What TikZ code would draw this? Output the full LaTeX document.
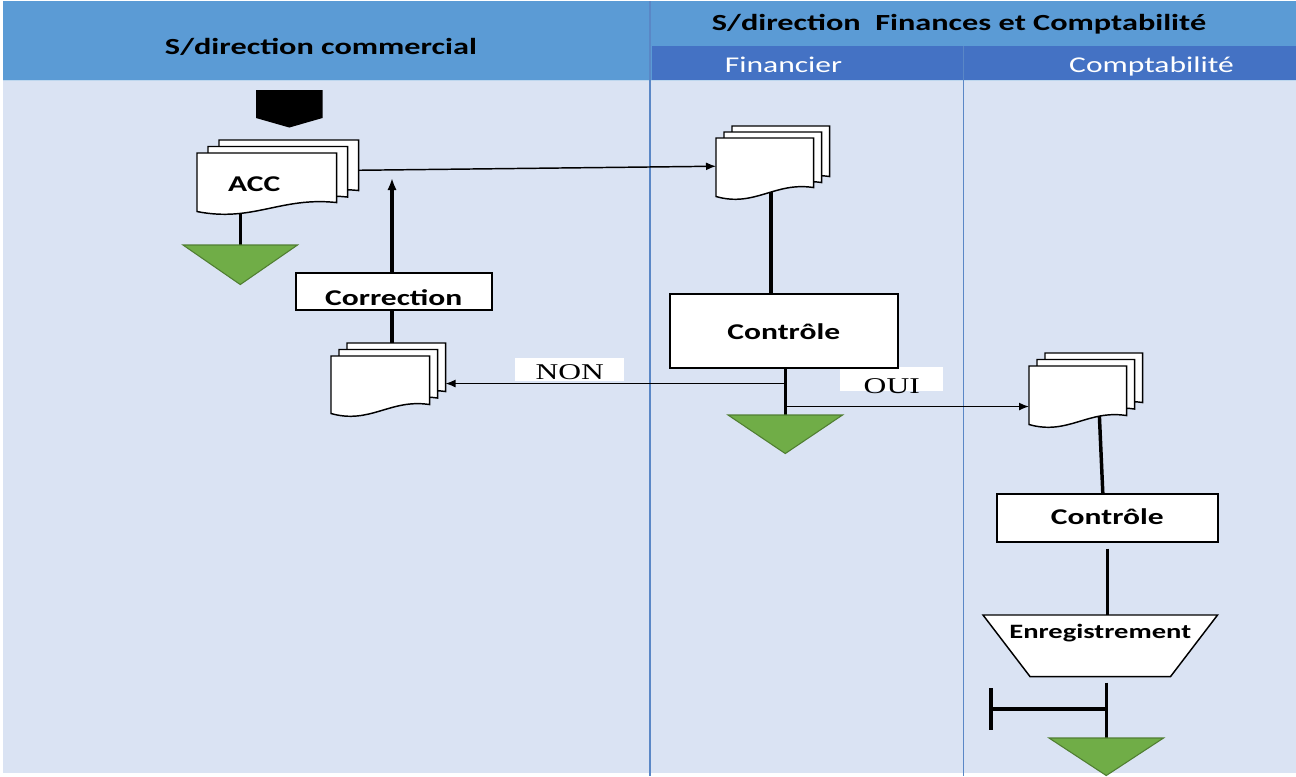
\documentclass[tikz,border=0pt]{standalone}
\usepackage{fontspec}
\setmainfont{Carlito}[FakeStretch=1.4]
\newfontfamily\serifwide{Liberation Serif}[FakeStretch=1.4]
\usetikzlibrary{calc,arrows.meta}
\pgfdeclarelayer{under}
\pgfsetlayers{under,main}
\definecolor{headblue}{HTML}{5B9BD5}
\definecolor{subblue}{HTML}{4472C4}
\definecolor{laneblue}{HTML}{DAE3F3}
\definecolor{laneline}{HTML}{5A87C6}
\definecolor{stopgreen}{HTML}{70AD47}
\definecolor{stopgreenline}{HTML}{507E32}

% one sheet of a document symbol, wavy lower edge
\newcommand\wavepage[1]{%
  \filldraw[pageline] (#1.north west) -- (#1.north east) -- (#1.south east)
    .. controls ($(#1.south west)!0.6!(#1.south east)+(0,-6)$)
       and ($(#1.south west)!0.4!(#1.south east)+(0,20)$)
    .. ($(#1.south west)+(0,9)$) -- cycle;}
% downward triangle (end of flow)
\newcommand\stoptri[1]{%
  \filldraw[stopmark] (#1.north west) -- (#1.north east) -- (#1.south) -- cycle;}

\begin{document}
\begin{tikzpicture}[x=0.75pt,y=-0.75pt,
  % node spanning the pixel box (x1,y1)-(x2,y2)
  spot/.style n args={4}{at={(#1,#2)}, anchor=north west,
      minimum width={(#3-#1)*0.75pt}, minimum height={(#4-#2)*0.75pt}},
  lab/.style={font=\fontsize{16.9pt}{20pt}\selectfont\bfseries},
  headtext/.style={font=\fontsize{17.3pt}{20pt}\selectfont\bfseries, anchor=base, inner sep=0pt},
  subtext/.style={font=\fontsize{16.9pt}{20pt}\selectfont, text=white, anchor=base, inner sep=0pt},
  answertext/.style={font=\serifwide\fontsize{16.9pt}{20pt}\selectfont, inner sep=0pt},
  answertag/.style={fill=white, inner sep=0pt},
  slot/.style={inner sep=0pt, draw=none},
  procbox/.style={slot, draw=black, fill=white, line width=1.2pt, lab},
  pageline/.style={fill=white, draw=black, line width=1.1pt},
  stopmark/.style={fill=stopgreen, draw=stopgreenline, line width=0.8pt},
  stemline/.style={line width=2.6pt, black},
  flowarrow/.style={line width=1.1pt, black, -{Latex[length=7.5pt,width=6pt]}},
]
\useasboundingbox (0,0) rectangle (1296,776);

% lanes and headers
\begin{pgfonlayer}{under}
  \fill[white] (0,0) rectangle (1296,776);
  \fill[laneblue] (3,1) rectangle (1296,773);
  \fill[headblue] (3,1) rectangle (1296,80);
  \fill[subblue] (652,46) rectangle (1296,80);
  \draw[white!60!headblue, line width=0.8pt] (3,80.5) -- (1296,80.5);
  \draw[laneline, line width=1.5pt] (650,1) -- (650,776);
  \draw[laneline, line width=1.2pt] (963.5,46) -- (963.5,776);
\end{pgfonlayer}

\node[headtext] (hcom) at (321,54) {S/direction commercial};
\node[headtext] (hfc) at (959,30) {S/direction\ \ Finances et Comptabilité};
\node[subtext] (hfin) at (783.5,72) {Financier};
\node[subtext] (hcpt) at (1151.5,72) {Comptabilité};

% S/direction commercial
\node[slot, spot={256}{90}{322}{127}] (offpage) {};
\node[slot, spot={219}{140}{358}{190}] (acc3) {};
\node[slot, spot={208}{146.5}{347}{196.5}] (acc2) {};
\node[slot, spot={197}{153}{336}{202},
      label={[lab, inner sep=0pt, anchor=base, xshift=-9.4pt, yshift=8.25pt]south:ACC}] (acc1) {};
\node[slot, spot={183}{245}{297}{284}] (tri1) {};
\node[procbox, spot={295}{272}{491}{309}, text height=21.75pt, text depth=0pt] (corr) {Correction};
\node[slot, spot={347}{343}{445}{391}] (cd3) {};
\node[slot, spot={339}{349.5}{437}{397.5}] (cd2) {};
\node[slot, spot={331}{356}{429}{404}] (cd1) {};
\coordinate (corrtip) at (392,178);

% Financier (answer tags first so the box outline stays on top)
\node[answertag, spot={515}{358}{624}{381},
      label={[answertext, anchor=base, yshift=1.5pt]south:NON}] (non) {};
\node[answertag, spot={840}{367}{943}{391},
      label={[answertext, anchor=base, yshift=-1.5pt]south:OUI}] (oui) {};
\node[slot, spot={732}{126}{829}{176}] (fin3) {};
\node[slot, spot={724}{132}{821}{182}] (fin2) {};
\node[slot, spot={716}{138}{813}{187}] (fin1) {};
\node[procbox, spot={669}{293}{897}{367}, text height=13.5pt, text depth=0pt] (ctl1) {Contrôle};
\node[slot, spot={728}{415}{842}{453}] (tri2) {};

% Comptabilité
\node[slot, spot={1045}{353}{1142}{402}] (cp3) {};
\node[slot, spot={1037}{359.5}{1134}{408.5}] (cp2) {};
\node[slot, spot={1029}{366}{1126}{415}] (cp1) {};
\node[procbox, spot={996}{493}{1217}{541}, text height=10.5pt, text depth=0pt] (ctl2) {Contrôle};
\node[slot, spot={983}{615}{1217}{676}, font=\fontsize{15.3pt}{18pt}\selectfont\bfseries,
      text height=10.5pt, text depth=21.75pt] (enr) {Enregistrement};
\node[slot, spot={1049}{738}{1163}{775}] (tri3) {};
\coordinate (stopbar) at (991,709);

% connectors, kept beneath the symbols
\begin{pgfonlayer}{under}
  \draw[stemline] (tri1.north |- acc1.center) -- (tri1.center);
  \draw[flowarrow] ([yshift=-3.75pt]acc3.east) -- ([yshift=-2.6pt]fin1.west);
  \draw[stemline, -{Latex[length=9pt,width=7pt]}] (corr.north -| corrtip) -- (corrtip);
  \draw[stemline] (corr.south -| corrtip) -- (cd3.center -| corrtip);

  \coordinate (finstem) at ([xshift=4.5pt]fin1.center);
  \draw[stemline] (finstem) -- (finstem |- ctl1.north);
  \coordinate (mainstem) at (tri2.north |- ctl1.south);
  \draw[stemline] (mainstem) -- (tri2.center);
  \path (mainstem |- non.south) ++(0,2) coordinate (nonsplit);
  \draw[flowarrow] (nonsplit) -- (nonsplit -| cd3.east);
  \path (mainstem |- oui.south) ++(0,15) coordinate (ouisplit);
  \draw[flowarrow] (ouisplit) -- (ouisplit -| cp1.west);

  \path (cp1.center) ++(20.5,0) coordinate (cptstem);
  \path (ctl2.north) ++(-4.5,0) coordinate (ctltop);
  \draw[stemline] (cptstem) -- (ctltop);
  \path (ctl2.south) ++(0,6) coordinate (ctlfoot);
  \draw[stemline] (ctlfoot) -- (ctlfoot |- enr.north);
  \path (tri3.north |- enr.south) ++(0,6) coordinate (enrfoot);
  \draw[stemline] (enrfoot) -- (tri3.center);
  \draw[stemline] (stopbar) -- (stopbar -| tri3.north);
  \draw[stemline] (stopbar) ++(0,-21) -- ++(0,42);

  % symbols
  \fill[black] (offpage.north west) -- (offpage.north east) -- ([yshift=-21pt]offpage.north east)
    -- (offpage.south) -- ([yshift=-21pt]offpage.north west) -- cycle;
  \wavepage{acc3}\wavepage{acc2}\wavepage{acc1}
  \wavepage{cd3}\wavepage{cd2}\wavepage{cd1}
  \wavepage{fin3}\wavepage{fin2}\wavepage{fin1}
  \wavepage{cp3}\wavepage{cp2}\wavepage{cp1}
  \stoptri{tri1}\stoptri{tri2}\stoptri{tri3}
  \filldraw[pageline] (enr.north west) -- (enr.north east) -- ([xshift=-35.25pt]enr.south east)
    -- ([xshift=35.25pt]enr.south west) -- cycle;
\end{pgfonlayer}
\end{tikzpicture}
\end{document}
